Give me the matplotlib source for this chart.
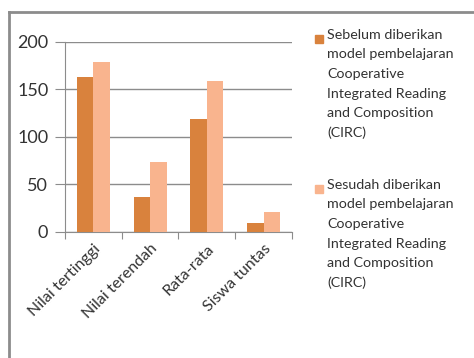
import numpy as np
import matplotlib.pyplot as plt
from matplotlib.lines import Line2D
from matplotlib.patches import Rectangle

kategori = ["Nilai tertinggi", "Nilai terendah", "Rata-rata", "Siswa tuntas"]
sebelum = [163, 37, 119, 9]
sesudah = [179, 74, 159, 21]
label_seri = [
    "Sebelum diberikan\nmodel pembelajaran\nCooperative\nIntegrated Reading\nand Composition\n(CIRC)",
    "Sesudah diberikan\nmodel pembelajaran\nCooperative\nIntegrated Reading\nand Composition\n(CIRC)",
]
warna = ["#D9823D", "#F9B48E"]

plt.rcParams["font.family"] = ["Lato", "DejaVu Sans"]

fig = plt.figure(figsize=(4.74, 3.58), dpi=100)
ax = fig.add_axes([0.137, 0.352, 0.479, 0.531])

x = np.arange(len(kategori))
lebar = 0.29
ax.bar(x - lebar / 2, sebelum, lebar, color=warna[0], zorder=3)
ax.bar(x + lebar / 2, sesudah, lebar, color=warna[1], zorder=3)

ax.set_xlim(-0.5, len(kategori) - 0.5)
ax.set_ylim(0, 200)
ax.set_yticks([0, 50, 100, 150, 200])
ax.grid(axis="y", color="#8c8c8c", lw=1, zorder=0)
for s in ["top", "right"]:
    ax.spines[s].set_visible(False)
ax.spines["left"].set_color("#8c8c8c")
ax.spines["bottom"].set_color("#8c8c8c")
ax.tick_params(axis="y", length=7, color="#8c8c8c", pad=5, labelsize=13,
               labelcolor="#333333")
ax.set_xticks(np.arange(-0.5, len(kategori)), minor=False)
ax.set_xticklabels([])
ax.tick_params(axis="x", length=5, color="#8c8c8c")
ax.set_xticks(x, minor=True)
ax.set_xticklabels(kategori, minor=True, rotation=45, ha="right",
                   rotation_mode="anchor", fontsize=11.5, color="#333333")
ax.tick_params(axis="x", which="minor", length=0, pad=7)

# legenda
for i, (lbl, c) in enumerate(zip(label_seri, warna)):
    y0 = 29 + i * 150
    fig.add_artist(Rectangle((315 / 474, 1 - (y0 + 14) / 358), 8 / 474, 8 / 358,
                             transform=fig.transFigure, color=c))
    fig.text(327 / 474, 1 - y0 / 358, lbl, va="top", ha="left", fontsize=10.3,
             linespacing=1.75, color="#333333")

# bingkai
fig.add_artist(Line2D([9 / 474, 9 / 474], [0, 1 - 12 / 358], color="#8c8c8c", lw=2))
fig.add_artist(Line2D([9 / 474, 1], [1 - 12 / 358, 1 - 12 / 358], color="#8c8c8c", lw=2))

fig.savefig("out.png", dpi=100)
